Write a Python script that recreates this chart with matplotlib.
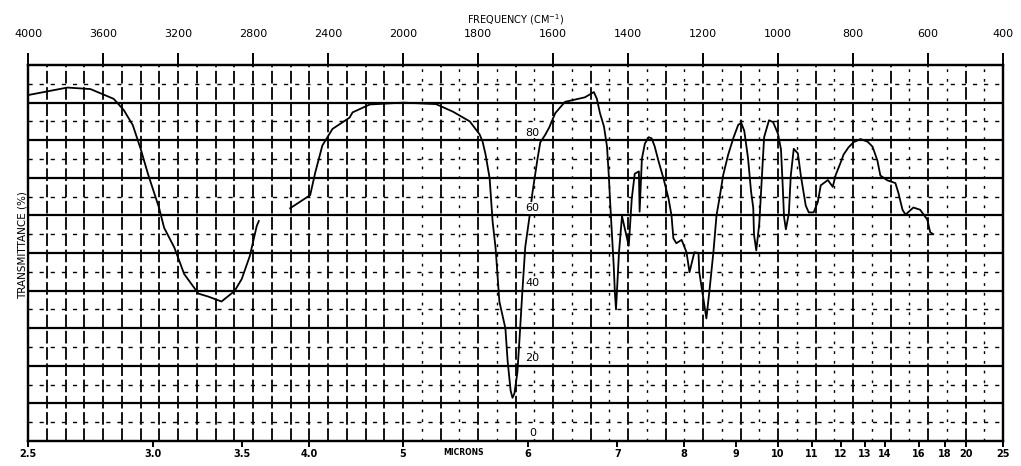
import numpy as np
import matplotlib
matplotlib.use("Agg")
import matplotlib.pyplot as plt

# spectrum: wavenumber (cm-1) and transmittance (%)
# nan marks the break in the trace near 2700 cm-1
wavenumber = [4000, 3790, 3667, 3543, 3489, 3441, 3398, 3360, 3301, 3274,
              3220, 3167, 3091, 3038, 2968, 2898, 2860, 2817, 2780, 2769,
              2700,
              2602, 2495, 2468, 2430, 2376, 2285, 2269, 2177, 2000, 1912,
              1867, 1822, 1796, 1788, 1780, 1769, 1761, 1753, 1748, 1743,
              1727, 1721, 1713, 1708, 1703, 1695, 1690, 1682, 1674, 1663,
              1655, 1642, 1634, 1621, 1610, 1594, 1568, 1541, 1515, 1491,
              1483, 1475, 1464, 1456, 1451, 1448, 1443, 1438, 1435, 1432,
              1424, 1416, 1398, 1390, 1382, 1371, 1369, 1363, 1355, 1345,
              1337, 1329, 1318, 1305, 1292, 1284, 1279, 1271, 1257, 1244,
              1236, 1223, 1212, 1210, 1196, 1191, 1183, 1172, 1164, 1156,
              1146, 1133, 1119, 1106, 1098, 1090, 1080, 1072, 1066, 1064,
              1058, 1050, 1040, 1037, 1024, 1013, 1000, 992, 987, 984,
              979, 971, 966, 958, 947, 939, 926, 918, 905, 894,
              886, 867, 854, 846, 832, 825, 812, 798, 780, 761,
              748, 735, 727, 708, 687, 679, 668, 660, 639, 621,
              602, 594, 586]
transmittance = [92, 94, 93.6, 91, 88, 84, 77.5, 71, 62, 56.7,
                 51.5, 44.4, 39.2, 38.4, 37.1, 39.9, 43.1, 49.2, 57.2, 58.5,
                 np.nan,
                 61.9, 65.4, 71.4, 78.6, 83, 86, 87.4, 89.5, 90, 89.6,
                 87.6, 85, 81.6, 79.7, 76.3, 69.9, 58.3, 51.2, 44.3, 37.1,
                 30, 21.3, 13.4, 11.5, 12.6, 18.2, 26, 39.3, 51.6, 59.4,
                 65.9, 74.6, 79.4, 81.4, 83.4, 87.2, 90.2, 90.8, 91.4, 92.8,
                 91, 87.3, 83.6, 78.3, 70.3, 64.2, 55.4, 46.4, 39.5, 35,
                 50.2, 59.8, 51.9, 64.4, 71.1, 71.7, 61, 75, 79.1, 80.8,
                 80.5, 78.4, 74.2, 69.7, 64.5, 60, 53.9, 52.6, 53.5, 50.2,
                 44.9, 50.2, 50, 45, 36, 32.6, 39.8, 50.5, 60, 64.6,
                 70.8, 76.1, 80.6, 84.1, 84.6, 82.5, 75.3, 66.5, 62, 54.9,
                 50.7, 57.7, 75.5, 80.8, 85.3, 84.8, 81.7, 77.5, 66.9, 59.7,
                 56.3, 60.6, 70.5, 77.7, 76.5, 70.5, 62.6, 60.8, 60.8, 63.5,
                 68, 69.4, 67.6, 70.8, 74.3, 76.2, 78.1, 79.5, 80.3, 79.6,
                 78.3, 74.6, 70.6, 69.3, 68.6, 66, 61.5, 60.2, 62.1, 61.5,
                 58.9, 55.5, 55]

freq_ticks = [4000, 3600, 3200, 2800, 2400, 2000, 1800, 1600,
              1400, 1200, 1000, 800, 600, 400]
micron_ticks = [2.5, 3, 3.5, 4, 5, 6, 7, 8, 9, 10, 11, 12, 13, 14, 16, 18, 20, 25]
micron_labels = ["2.5", "3.0", "3.5", "4.0", "5", "6", "7", "8", "9", "10",
                 "11", "12", "13", "14", "16", "18", "20", "25"]
percent_marks = [80, 60, 40, 20, 0]


# chart paper: wavenumber scale doubles below 2000 cm-1
def fwd(w):
    w = np.asarray(w, dtype=float)
    return np.where(w >= 2000, w, 2 * w - 2000)


def inv(u):
    u = np.asarray(u, dtype=float)
    return np.where(u >= 2000, u, (u + 2000) / 2)


plt.rcParams['font.family'] = ['DejaVu Sans']
fig = plt.figure(figsize=(10.21, 4.66), dpi=100, facecolor='white')
ax = fig.add_axes([28 / 1021, 25 / 466, 975 / 1021, 376 / 466])
ax.set_xscale('function', functions=(fwd, inv))
ax.set_xlim(4000, 400)
ax.set_ylim(0, 100)

# grid of the chart paper
for t in range(10, 100, 10):
    ax.axhline(t, color='black', lw=1.6, zorder=1)
for t in range(5, 100, 10):
    ax.axhline(t, color='black', lw=1.0, ls=(0, (3, 5)), zorder=1)
for w in range(3900, 400, -100):
    ax.axvline(w, color='black', lw=1.3, ls=(0, (7, 2)), zorder=1)
for w in range(1950, 400, -100):
    ax.axvline(w, color='black', lw=1.0, ls=(0, (2, 5)), zorder=1)

ax.plot(wavenumber, transmittance, color='black', lw=1.3, zorder=3)

for p in percent_marks:
    ax.text(1655, p + 2, str(p), fontsize=8, ha='center', va='center',
            color='black', zorder=4,
            bbox=dict(facecolor='white', edgecolor='none', pad=0.5))

for s in ax.spines.values():
    s.set_linewidth(1.6)

# wavelength scale along the bottom
ax.set_yticks([])
ax.set_xticks([1e4 / m for m in micron_ticks])
ax.set_xticklabels(micron_labels, fontsize=7, fontweight='bold')
ax.xaxis.set_minor_locator(matplotlib.ticker.NullLocator())
ax.tick_params(axis='x', direction='out', length=4, width=1.4, pad=2)
ax.text(0.447, -0.031, "MICRONS", transform=ax.transAxes, fontsize=5.5,
        fontweight='bold', ha='center', va='center')

# frequency scale along the top
ax2 = ax.twiny()
ax2.set_xscale('function', functions=(fwd, inv))
ax2.set_xlim(4000, 400)
ax2.set_xticks(freq_ticks)
ax2.set_xticklabels([str(f) for f in freq_ticks], fontsize=8)
ax2.xaxis.set_minor_locator(matplotlib.ticker.NullLocator())
ax2.tick_params(axis='x', direction='out', length=9, width=1.4, pad=10)
ax2.set_xlabel("FREQUENCY (CM$^{-1}$)", fontsize=7, labelpad=4)
for s in ax2.spines.values():
    s.set_linewidth(1.6)

ax.text(-0.006, 0.52, "TRANSMITTANCE (%)", transform=ax.transAxes,
        rotation=90, fontsize=7.5, ha='center', va='center',
        bbox=dict(facecolor='white', edgecolor='none', pad=0.3))

fig.savefig("out.png", dpi=100, facecolor='white')
